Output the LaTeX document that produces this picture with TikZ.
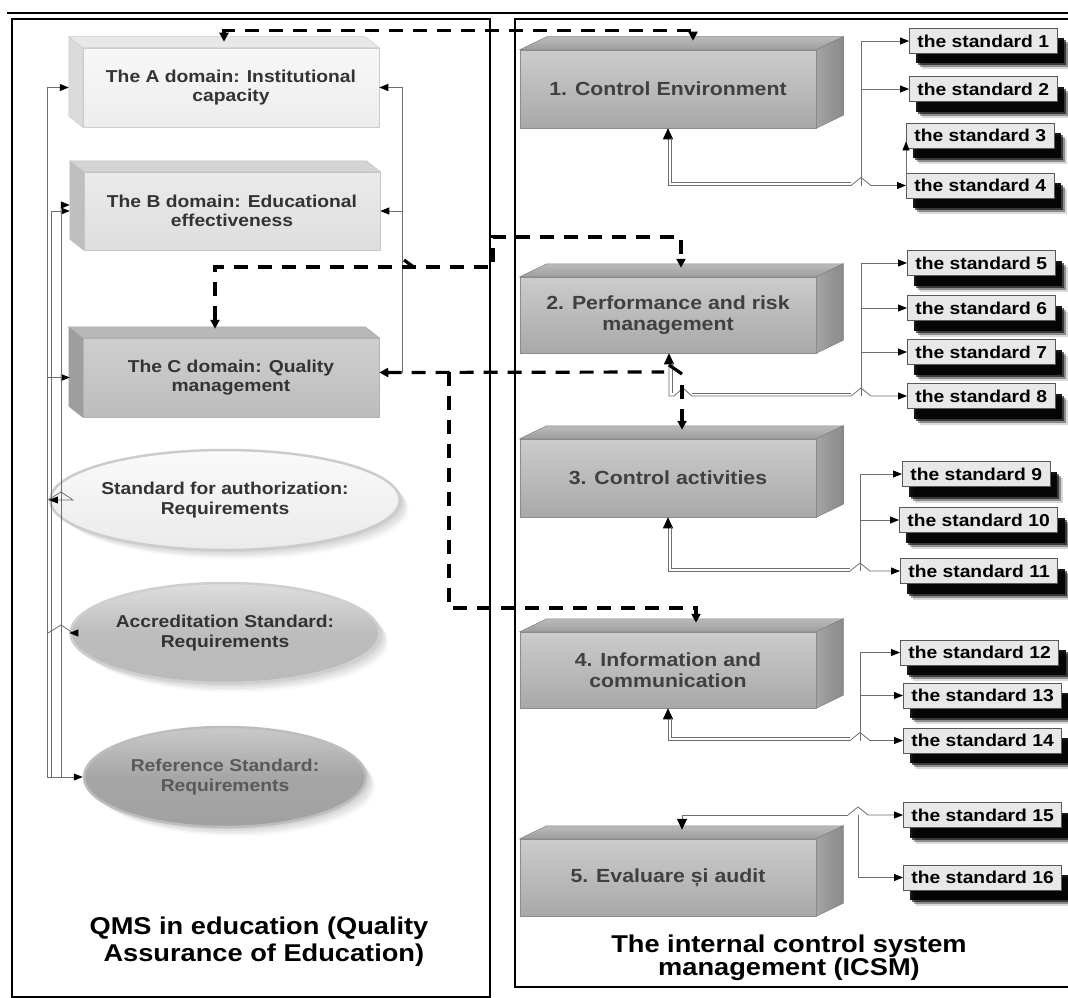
\documentclass[tikz,border=0pt]{standalone}
\usepackage{fontspec}
\setmainfont{Liberation Sans}[FakeStretch=1.12]
\usetikzlibrary{calc,arrows.meta,shapes.geometric,shadows}
\definecolor{lgray}{HTML}{6E6E6E}
\definecolor{txtd}{HTML}{333333}
\definecolor{txtm}{HTML}{404040}
\newcommand\fntL{\fontsize{17.2}{19.5}\selectfont\bfseries}
\newcommand\fntR{\fontsize{19}{21}\selectfont\bfseries}
\newcommand\fntS{\fontsize{17.2}{19}\selectfont\bfseries}
\newcommand\fntB{\fontsize{24.3}{27}\selectfont\bfseries}
\newcommand\fntBB{\fontsize{24.3}{23.5}\selectfont\bfseries}
\newcommand\LFaces[4]{%
  \filldraw[fill=#2,draw=#4,line width=0.5pt] (#1.north west) -- ++(-14,-11) -- ($(#1.south west)+(-14,-11)$) -- (#1.south west) -- cycle;
  \filldraw[fill=#3,draw=#4,line width=0.5pt] (#1.north west) -- ++(-14,-11) -- ($(#1.north east)+(-14,-11)$) -- (#1.north east) -- cycle;}
\newcommand\RFaces[1]{%
  \path[top color=black!27,bottom color=black!38,draw=black!48,line width=0.5pt] (#1.north west) -- ++(27,-13) -- ($(#1.north east)+(27,-13)$) -- (#1.north east) -- cycle;
  \path[left color=black!36,right color=black!46,draw=black!50,line width=0.5pt] (#1.north east) -- ++(27,-13) -- ($(#1.south east)+(27,-13)$) -- (#1.south east) -- cycle;}
\begin{document}
\begin{tikzpicture}[x=1pt,y=-1pt,
  lbox/.style={rectangle,minimum width=296pt,minimum height=79pt,inner sep=0pt,align=center,text=txtd,font=\fntL,line width=0.5pt},
  rbox/.style={rectangle,minimum width=296pt,minimum height=77pt,inner sep=0pt,align=center,text=txtm,font=\fntR,draw=black!45,line width=0.5pt,top color=black!20,bottom color=black!34},
  ell/.style={ellipse,minimum width=282pt,minimum height=100pt,inner sep=0pt,align=center,font=\fntL,line width=2.5pt,
     drop shadow={shadow xshift=11pt,shadow yshift=-10pt,shadow scale=0.99,opacity=.025,fill=black},
     drop shadow={shadow xshift=9pt,shadow yshift=-8pt,shadow scale=0.99,opacity=.03,fill=black},
     drop shadow={shadow xshift=7pt,shadow yshift=-6pt,opacity=.035,fill=black},
     drop shadow={shadow xshift=5pt,shadow yshift=-4pt,opacity=.04,fill=black},
     drop shadow={shadow xshift=3pt,shadow yshift=-2pt,opacity=.05,fill=black}},
  stdbox/.style={rectangle,draw=black!65,line width=0.8pt,fill=black!9,font=\fntS,text=black,inner xsep=8pt,inner ysep=0pt,minimum height=25pt,anchor=west,
     drop shadow={shadow xshift=13pt,shadow yshift=-16pt,opacity=.15,fill=black},
     drop shadow={shadow xshift=11pt,shadow yshift=-14pt,opacity=.35,fill=black},
     drop shadow={shadow xshift=9pt,shadow yshift=-12pt,opacity=.6,fill=black},
     drop shadow={shadow xshift=7pt,shadow yshift=-10pt,opacity=.9,fill=black}},
  thinln/.style={draw=lgray,line width=0.8pt},
  conn/.style={thinln,-{Triangle[length=9pt,width=7pt,color=black]}},
  bconn/.style={thinln,-{Triangle[length=11pt,width=10pt,color=black]}},
  dsh/.style={line width=3.2pt,dash pattern=on 14pt off 10pt,black},
  dshb/.style={dsh,{Triangle[length=9pt,width=9pt]}-{Triangle[length=9pt,width=9pt]}},
  dshe/.style={dsh,-{Triangle[length=9pt,width=9pt]}},
  dshs/.style={dsh,{Triangle[length=9pt,width=9pt]}-},
  ttl/.style={align=center,text=black}
]
\useasboundingbox (0,0) rectangle (1068,998);
\fill[white] (0,0) rectangle (1068,998);
% frames
\draw[line width=1.6pt] (7,13) -- (1068,13);
\draw[line width=1.6pt] (12,19) rectangle (490,997);
\draw[line width=1.6pt] (515,19) rectangle (1075,987);

% left boxes
\node[lbox,draw=black!20,top color=black!3,bottom color=black!7] (A) at (231,87.5) {The A domain: Institutional\\capacity};
\LFaces{A}{black!14}{black!9}{black!20}
\node[lbox,draw=black!22,top color=black!8,bottom color=black!13,minimum height=78pt] (B) at (232,211) {The B domain: Educational\\effectiveness};
\LFaces{B}{black!25}{black!17}{black!25}
\node[lbox,draw=black!30,top color=black!19,bottom color=black!26] (C) at (231,377.5) {The C domain: Quality\\management};
\LFaces{C}{black!38}{black!28}{black!35}

% ellipses
\node[ell,draw=black!20,top color=black!2,bottom color=black!8,text=txtd] (E1) at (225,500) {Standard for authorization:\\Requirements};
\node[ell,draw=black!19,top color=black!13,bottom color=black!27,middle color=black!26,text=txtd] (E2) at (225,633) {Accreditation Standard:\\Requirements};
\node[ell,draw=black!26,top color=black!21,bottom color=black!37,middle color=black!35,text=black!65] (E3) at (225,777) {Reference Standard:\\Requirements};

% right boxes
\node[rbox,minimum height=78pt] (b1) at (668,89) {1. Control Environment};
\RFaces{b1}
\node[rbox,minimum height=76pt] (b2) at (668,315) {2. Performance and risk\\management};
\RFaces{b2}
\node[rbox,minimum height=78pt] (b3) at (668,478) {3. Control activities};
\RFaces{b3}
\node[rbox,minimum height=76pt] (b4) at (668,670) {4. Information and\\communication};
\RFaces{b4}
\node[rbox,minimum height=77pt] (b5) at (668,877.5) {5. Evaluare și audit};
\RFaces{b5}

% standards
\node[stdbox] (s1) at (909,41) {the standard 1};
\node[stdbox] (s2) at (909,89) {the standard 2};
\node[stdbox] (s3) at (906,135.5) {the standard 3};
\node[stdbox] (s4) at (906,185.5) {the standard 4};
\node[stdbox] (s5) at (907,263) {the standard 5};
\node[stdbox] (s6) at (907,308) {the standard 6};
\node[stdbox] (s7) at (907,352) {the standard 7};
\node[stdbox] (s8) at (907,396) {the standard 8};
\node[stdbox] (s9) at (902,474) {the standard 9};
\node[stdbox] (s10) at (899,520) {the standard 10};
\node[stdbox] (s11) at (900,571) {the standard 11};
\node[stdbox] (s12) at (900,652.5) {the standard 12};
\node[stdbox] (s13) at (903,695.5) {the standard 13};
\node[stdbox] (s14) at (903,740.5) {the standard 14};
\node[stdbox] (s15) at (903,815) {the standard 15};
\node[stdbox] (s16) at (903,877.5) {the standard 16};

% titles
\node[ttl,font=\fntB] (t1) at (259,941.5) {QMS in education (Quality\\\hspace*{0.4em}Assurance of Education)};
\node[ttl,font=\fntBB] (t2) at (789,958) {The internal control system\\management (ICSM)};

% left connectors
\coordinate (bL1) at (47,0);
\coordinate (bL3) at (51,0);
\coordinate (bL2) at (61,0);
\coordinate (bR) at (402,0);
\draw[conn] (bL1 |- E3.west) -- (bL1 |- A.west) -- ($(A.west)+(-14,0)$);
\draw[conn] (bL1 |- C.west) -- ($(C.west)+(-13,0)$);
\draw[conn] (bL3 |- E3.west) -- (bL3 |- B.west) -- ($(B.west)+(-14,0)$);
\draw[conn] (bL2 |- E3.west) -- ($(bL2 |- B.west)+(0,-6)$) -- ($(B.west)+(-14,-6)$);
\draw[conn] (bL1 |- E1.west) -- ($(bL2 |- E1.west)+(-13,0)$) -- ($(bL2 |- E1.west)+(0,-8)$) -- ($(bL2 |- E1.west)+(12,0)$) -- (E1.west);
\draw[conn] (bL1 |- E2.west) -- ($(bL2 |- E2.west)+(-13,0)$) -- ($(bL2 |- E2.west)+(0,-8)$) -- ($(bL2 |- E2.west)+(12,0)$) -- (E2.west);
\draw[thinln] (bL1 |- E3.west) -- (bL2 |- E3.west);
\draw[conn] (bL2 |- E3.west) -- (E3.west);
\draw[conn] ($(bR |- C.east)+(0,-5)$) -- (bR |- A.east) -- (A.east);
\draw[conn] (bR |- B.east) -- (B.east);

% right connectors
\coordinate (bus1) at (861,0);
\coordinate (bus3) at (860,0);
\coordinate (bus5) at (858,0);
% group 1
\draw[conn] (bus1 |- s4.west) -- (bus1 |- s1.west) -- (s1.west);
\draw[conn] (bus1 |- s2.west) -- (s2.west);
\draw[conn] (s4.west) -- ($(s3.south west)+(0,-7)$);
\draw[bconn] ($(bus1 |- s4.west)+(-10,0)$) -| (b1.south);
\draw[thinln] ($(bus1 |- s4.west)+(-10,-3)$) -| ($(b1.south)+(3,10)$);
\draw[conn] ($(bus1 |- s4.west)+(-10,0)$) -- ++(10,-8) -- ++(10,8) -- (s4.west);
% group 2
\draw[conn] (bus1 |- s8.west) -- (bus1 |- s5.west) -- (s5.west);
\draw[conn] (bus1 |- s6.west) -- (s6.west);
\draw[conn] (bus1 |- s7.west) -- (s7.west);
\draw[bconn] ($(bus1 |- s8.west)+(-10,0)$) -- ($(b2.south |- s8.west)+(24,0)$) -- ++(-9,-8) -- ++(-9,8) -- ($(b2.south |- s8.west)+(1,0)$) -- ($(b2.south)+(1,0)$);
\draw[thinln] ($(bus1 |- s8.west)+(-10,-3)$) -- ($(b2.south |- s8.west)+(24,-3)$);
\draw[thinln] ($(b2.south |- s8.west)+(4,-3)$) -- ($(b2.south)+(4,10)$);
\draw[conn] ($(bus1 |- s8.west)+(-10,0)$) -- ++(10,-8) -- ++(10,8) -- (s8.west);
% group 3
\draw[conn] (bus3 |- s11.west) -- (bus3 |- s9.west) -- (s9.west);
\draw[conn] (bus3 |- s10.west) -- (s10.west);
\draw[bconn] ($(bus3 |- s11.west)+(-10,0)$) -| (b3.south);
\draw[thinln] ($(bus3 |- s11.west)+(-10,-3)$) -| ($(b3.south)+(3,10)$);
\draw[conn] ($(bus3 |- s11.west)+(-10,0)$) -- ++(10,-8) -- ++(10,8) -- (s11.west);
% group 4
\draw[conn] (bus3 |- s14.west) -- (bus3 |- s12.west) -- (s12.west);
\draw[conn] (bus3 |- s13.west) -- (s13.west);
\draw[bconn] ($(bus3 |- s14.west)+(-10,0)$) -| (b4.south);
\draw[thinln] ($(bus3 |- s14.west)+(-10,-3)$) -| ($(b4.south)+(3,10)$);
\draw[conn] ($(bus3 |- s14.west)+(-10,0)$) -- ++(10,-8) -- ++(10,8) -- (s14.west);
% group 5
\draw[conn] ($(bus5 |- s15.west)+(-10,0)$) -- ++(10,-8) -- ++(10,8) -- (s15.west);
\draw[bconn] ($(bus5 |- s15.west)+(-10,0)$) -| ($(b5.north)+(14,-9)$);
\draw[conn] (bus5 |- s15.west) -- (bus5 |- s16.west) -- (s16.west);

% dashed connectors
\draw[dshb] ($(A.north)+(-7,-6)$) -- ++(0,-11) -| ($(b1.north)+(25,-9)$);
\draw[dshb] ($(C.north)+(-16,-9)$) |- (493,267) -- (493,237) -| ($(b2.north)+(13,-9)$);
\draw[line width=3.2pt] (404,260) -- (415,268);
\draw[dshs] ($(C.east)+(0,-5)$) -- (664,372);
\draw[line width=3.2pt] (669,365) -- (682,374);
\draw[dshe] (682,385) -- ($(b3.north)+(14,-9)$);
\draw[dshe] (449,372) -- (449,608) -| ($(b4.north)+(28,-9)$);
\end{tikzpicture}
\end{document}
